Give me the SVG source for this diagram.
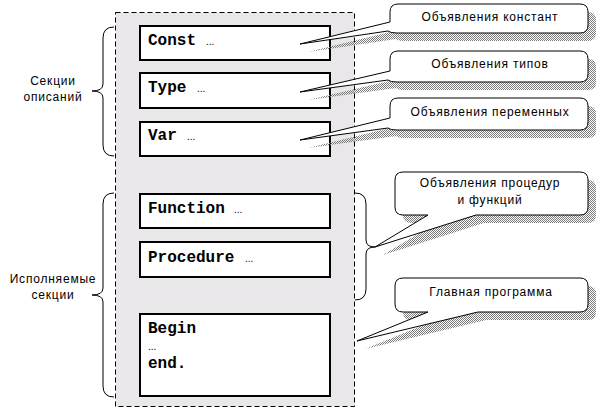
<svg xmlns="http://www.w3.org/2000/svg" width="596" height="409" viewBox="0 0 596 409">
<defs>
<pattern id="dither" width="2" height="2" patternUnits="userSpaceOnUse">
<rect x="0" y="0" width="1" height="1" fill="#7a7a7a"/>
<rect x="1" y="1" width="1" height="1" fill="#7a7a7a"/>
</pattern>
<style>
.code{font-family:"Liberation Mono","Courier New",monospace;font-weight:bold;font-size:16px;fill:#000}
.dots{font-family:"Liberation Sans",Arial,sans-serif;font-size:10px;fill:#000}
.lbl{font-family:"Liberation Sans",Arial,sans-serif;font-size:12px;fill:#000;letter-spacing:0.8px;text-anchor:middle}
.box{fill:#fff;stroke:#000;stroke-width:2}
.bubble{fill:#fff;stroke:#000;stroke-width:1}
.shadow{fill:url(#dither);stroke:none}
.brace{fill:none;stroke:#000;stroke-width:1}
</style>
<path id="b1" d="M398,4 L580,4 Q588,4 588,12 L588,25 Q588,33 580,33 L397,33 Q390,33 388,31 L300,44 L390,22 L390,12 Q390,4 398,4 Z"/>
<path id="b2" d="M398,51 L580,51 Q588,51 588,59 L588,74 Q588,82 580,82 L397,82 Q390,82 388,80 L300,92 L390,71 L390,59 Q390,51 398,51 Z"/>
<path id="b3" d="M398,98 L580,98 Q588,98 588,106 L588,122 Q588,130 580,130 L397,130 Q390,130 388,128 L300,140 L390,118 L390,106 Q390,98 398,98 Z"/>
<path id="b4" d="M403,172 L580,172 Q588,172 588,180 L588,207 Q588,215 580,215 L476,215 L375,247 L428,215 L403,215 Q395,215 395,207 L395,180 Q395,172 403,172 Z"/>
<path id="b5" d="M403,278 L580,278 Q588,278 588,286 L588,304 Q588,312 580,312 L478,312 L357,341 L428,312 L403,312 Q395,312 395,304 L395,286 Q395,278 403,278 Z"/>
</defs>
<rect width="596" height="409" fill="#fff"/>

<g id="program">
<rect x="115.5" y="12.5" width="239" height="394" fill="#e9e7e9" stroke="#000" stroke-width="1" stroke-dasharray="5,3"/>
</g>

<g id="const"><rect class="box" x="140" y="26" width="190" height="34"/><text class="code" x="148" y="45">Const</text><text class="dots" x="206" y="45">...</text></g>
<g id="type"><rect class="box" x="140" y="73" width="190" height="35"/><text class="code" x="148" y="92">Type</text><text class="dots" x="197" y="92">...</text></g>
<g id="var"><rect class="box" x="140" y="122" width="190" height="34"/><text class="code" x="148" y="140">Var</text><text class="dots" x="187" y="140">...</text></g>
<g id="function"><rect class="box" x="140" y="194" width="190" height="34"/><text class="code" x="148" y="213">Function</text><text class="dots" x="234" y="213">...</text></g>
<g id="procedure"><rect class="box" x="140" y="242" width="190" height="35"/><text class="code" x="148" y="262">Procedure</text><text class="dots" x="245" y="262">...</text></g>
<g id="main"><rect class="box" x="140" y="314" width="190" height="82"/><text class="code" x="148" y="333">Begin</text><text class="dots" x="148" y="350">...</text><text class="code" x="148" y="368">end.</text></g>

<g id="connectors">
<path class="brace" d="M114,27 Q103,27 103,38 L103,84 Q103,91 92,91 Q103,91 103,98 L103,145 Q103,156 114,156"/>
<path class="brace" d="M114,193 Q103,193 103,204 L103,288 Q103,295 92,295 Q103,295 103,302 L103,386 Q103,397 114,397"/>
<path class="brace" d="M355,193 Q366,193 366,204 L366,240 Q366,247 375,247 Q366,247 366,254 L366,289 Q366,300 355,300"/>
</g>

<g id="label-decl"><text class="lbl" x="53" y="85">Секции</text><text class="lbl" x="53" y="101">описаний</text></g>
<g id="label-exec"><text class="lbl" x="53" y="283">Исполняемые</text><text class="lbl" x="53" y="299">секции</text></g>

<g id="callout-const"><use href="#b1" class="shadow" transform="translate(8,8)"/><use href="#b1" class="bubble"/><text class="lbl" x="490" y="21">Объявления констант</text></g>
<g id="callout-type"><use href="#b2" class="shadow" transform="translate(8,8)"/><use href="#b2" class="bubble"/><text class="lbl" x="490" y="68">Объявления типов</text></g>
<g id="callout-var"><use href="#b3" class="shadow" transform="translate(8,8)"/><use href="#b3" class="bubble"/><text class="lbl" x="490" y="116">Объявления переменных</text></g>
<g id="callout-proc"><use href="#b4" class="shadow" transform="translate(8,8)"/><use href="#b4" class="bubble"/><text class="lbl" x="490" y="187">Объявления процедур</text><text class="lbl" x="490" y="204">и функций</text></g>
<g id="callout-main"><use href="#b5" class="shadow" transform="translate(8,8)"/><use href="#b5" class="bubble"/><text class="lbl" x="491" y="296">Главная программа</text></g>
</svg>
